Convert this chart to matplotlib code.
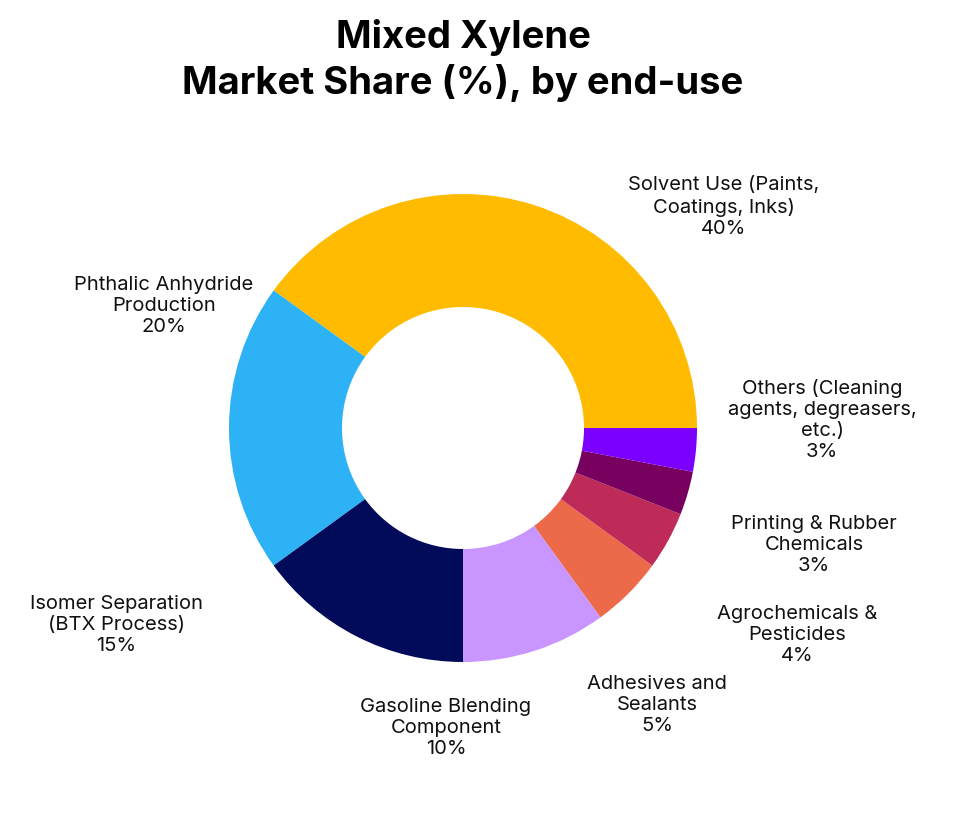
import matplotlib.pyplot as plt

plt.rcParams['font.family'] = ['Inter', 'DejaVu Sans']

labels = ["Solvent Use (Paints,\nCoatings, Inks)", "Phthalic Anhydride\nProduction",
          "Isomer Separation\n(BTX Process)", "Gasoline Blending\nComponent",
          "Adhesives and\nSealants", "Agrochemicals &\nPesticides",
          "Printing & Rubber\nChemicals", "Others (Cleaning\nagents, degreasers,\netc.)"]
values = [40, 20, 15, 10, 5, 4, 3, 3]
colors = ["#FFBB00", "#2EB2F6", "#020A5A", "#C996FF", "#EC6A4A", "#BE2B58", "#78005F", "#7B00FF"]
# label centre positions in pixels
label_pos = [(724, 207), (164, 306), (116, 625), (446, 728),
             (657, 705), (797, 635), (814, 545), (822, 420)]

fig = plt.figure(figsize=(9.59, 8.31), dpi=100)
ax = fig.add_axes([0, 0, 1, 1])

wedges, _ = ax.pie(values, colors=colors, startangle=0, counterclock=False,
                   center=(463, 428), radius=234,
                   wedgeprops=dict(width=113, linewidth=0))
# y axis is inverted, so counterclock=False draws counterclockwise on screen
ax.set_xlim(0, 959)
ax.set_ylim(831, 0)
ax.set_aspect('equal')
ax.axis('off')

for lab, v, (x, y) in zip(labels, values, label_pos):
    ax.text(x, y, f"{lab}\n{v}%", ha='center', va='center', fontsize=14.5,
            linespacing=1.22, color="#111111")

ax.text(463, 37, "Mixed Xylene", ha='center', va='center', fontsize=27.5, fontweight='bold')
ax.text(463, 83, "Market Share (%), by end-use", ha='center', va='center', fontsize=27.5, fontweight='bold')

fig.savefig("out.png", dpi=100)
